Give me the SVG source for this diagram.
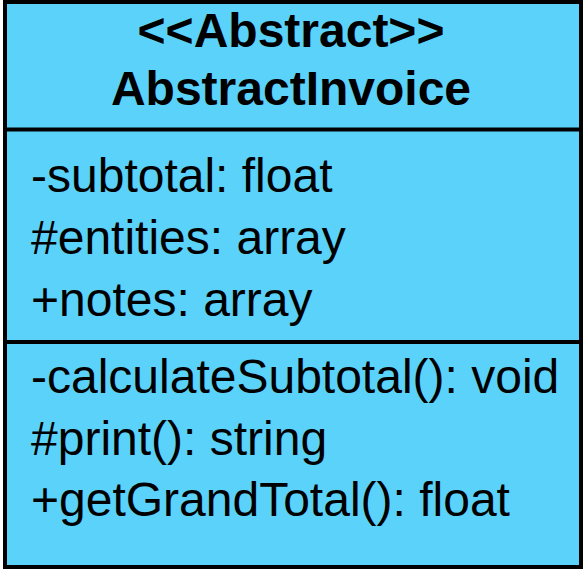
<svg xmlns="http://www.w3.org/2000/svg" width="585" height="570" viewBox="0 0 585 570">
<style>
.box{fill:#5AD2FA;stroke:#000;stroke-width:4}
.div{stroke:#000;stroke-width:4}
text{font-family:"Liberation Sans",Arial,Helvetica,sans-serif;font-size:48px;fill:#000}
.t{font-weight:bold;text-anchor:middle}
</style>
<g id="AbstractInvoice">
<rect class="box" x="5" y="2" width="576" height="565"/>
<line class="div" x1="5" y1="129.5" x2="581" y2="129.5"/>
<line class="div" x1="5" y1="342" x2="581" y2="342"/>
<text class="t" x="291" y="47">&lt;&lt;Abstract&gt;&gt;</text>
<text class="t" x="291" y="105">AbstractInvoice</text>
<text x="31" y="192">-subtotal: float</text>
<text x="31" y="254">#entities: array</text>
<text x="31" y="316">+notes: array</text>
<text x="31" y="393">-calculateSubtotal(): void</text>
<text x="31" y="455">#print(): string</text>
<text x="31" y="516">+getGrandTotal(): float</text>
</g>
<g id="connectors"/>
</svg>
